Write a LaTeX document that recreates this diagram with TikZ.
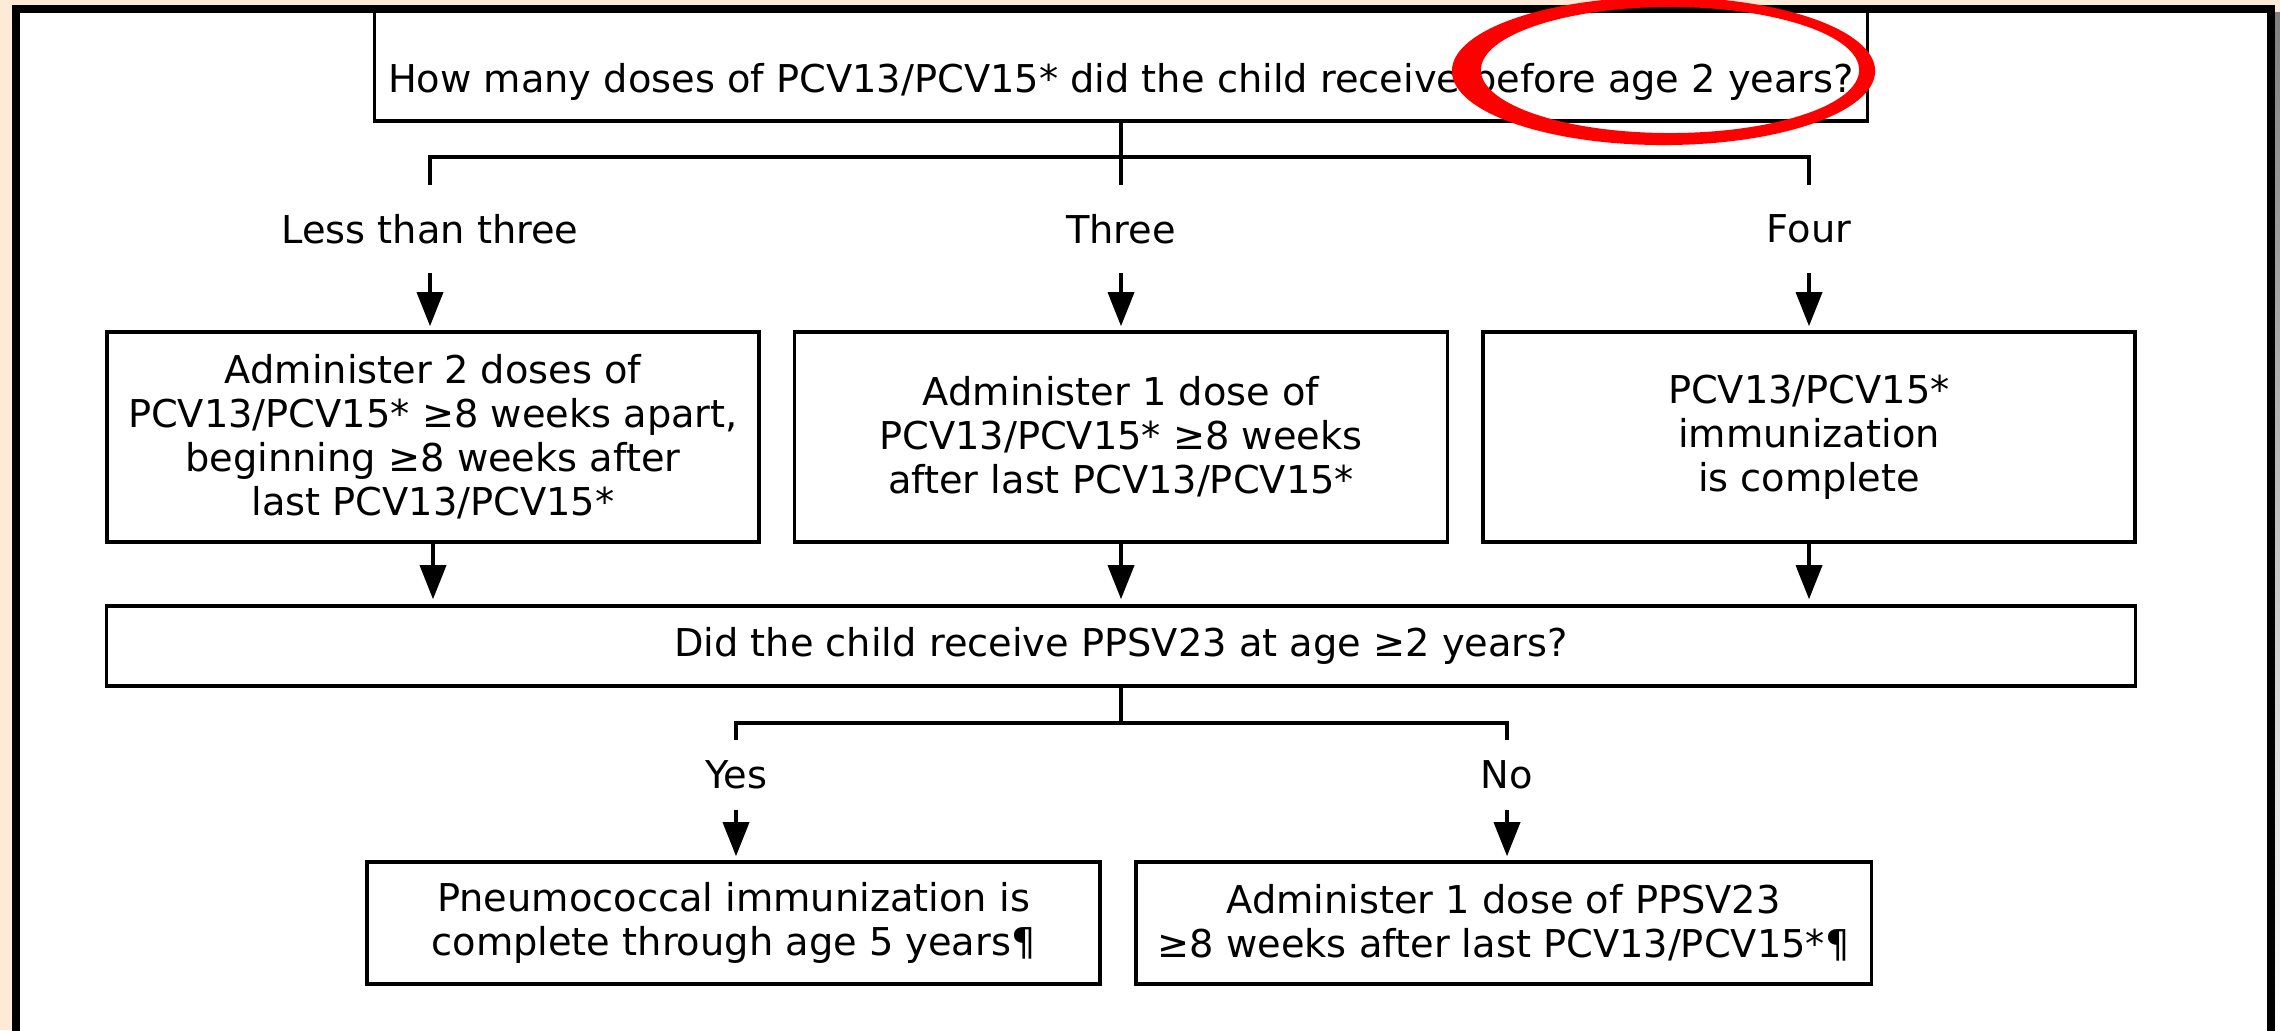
\documentclass[tikz,border=0pt]{standalone}
\usepackage{fontspec}
\setmainfont{DejaVu Sans}
\usetikzlibrary{arrows.meta,calc}
\definecolor{peach}{RGB}{253,235,216}
\definecolor{shade}{RGB}{190,172,156}

\begin{document}
\begin{tikzpicture}[x=0.01cm,y=-0.01cm,line width=0.035cm,
  >={Triangle[width=0.26cm,length=0.34cm]},
  font=\fontsize{10.9}{12.5}\selectfont,
  box/.style={draw,align=center,inner sep=0pt},
  tag/.style={inner sep=0pt,align=center}]

  % page and frame background
  \useasboundingbox (0,0) rectangle (2280,1030);
  \fill[peach] (0,0) rectangle (2280,1030);
  \fill[shade] (2275,12) rectangle (2280,1030);
  \fill[white] (16,9) rectangle (2271,1030);

  \begin{scope}
  \clip (16,9) rectangle (2271,1030);

  % first question
  \node[box,anchor=base,text height=1.6cm,text depth=0.14cm,inner ysep=0.15cm,
    minimum width=14.92cm] (q1) at (1121,92)
    {How many doses of PCV13/PCV15* did the child receive before age 2 years?};

  % answers
  \node[tag,minimum height=0.85cm] (less) at (430,229) {Less than three};
  \node[tag,minimum height=0.85cm] (three) at (1121,229) {Three};
  \node[tag,minimum height=0.85cm] (four) at (1809,229) {Four};

  % actions
  \node[box,minimum width=6.52cm,minimum height=2.1cm] (b1) at (433,437)
    {Administer 2 doses of\\PCV13/PCV15* ≥8 weeks apart,\\beginning ≥8 weeks after\\last PCV13/PCV15*};
  \node[box,minimum width=6.53cm,minimum height=2.1cm] (b2) at (1121,437)
    {Administer 1 dose of\\PCV13/PCV15* ≥8 weeks\\after last PCV13/PCV15*};
  \node[box,minimum width=6.52cm,minimum height=2.1cm] (b3) at (1809,437)
    {PCV13/PCV15*\\immunization\\is complete};

  % second question
  \node[box,minimum width=20.28cm,minimum height=0.8cm] (q2) at (1121,646)
    {Did the child receive PPSV23 at age ≥2 years?};
  \node[tag,minimum height=0.66cm] (yes) at (736,775) {Yes};
  \node[tag,minimum height=0.66cm] (no) at (1507,775) {No};

  % outcomes
  \node[box,minimum width=7.33cm,minimum height=1.22cm] (done) at (733.5,923)
    {Pneumococcal immunization is\\complete through age 5 years¶};
  \node[box,minimum width=7.35cm,minimum height=1.22cm] (ppsv) at (1503.5,923)
    {Administer 1 dose of PPSV23\\≥8 weeks after last PCV13/PCV15*¶};

  % connectors
  \coordinate (bus1) at (1121,157);
  \coordinate (bus2) at (1121,723);
  \draw (q1.south) -- (three.north);
  \draw (less.north) |- (bus1) -| (four.north);
  \foreach \a/\b in {less/b1,three/b2,four/b3}
    \draw[->,shorten >=0.04cm] (\a.south) -- (\a.south |- \b.north);
  \foreach \b in {b1,b2,b3}
    \draw[->,shorten >=0.05cm] (\b.south) -- (\b.south |- q2.north);
  \draw (q2.south) -- (bus2);
  \draw (yes.north) |- (bus2) -| (no.north);
  \draw[->,shorten >=0.04cm] (yes.south) -- (yes.south |- done.north);
  \draw[->,shorten >=0.04cm] (no.south) -- (no.south |- ppsv.north);
  \end{scope}

  % frame
  \draw[line width=0.08cm] (16,1040) -- (16,9) -- (2271,9) -- (2271,1040);

  % highlight
  \fill[red,even odd rule]
    (1663.5,71) ellipse [x radius=2.115cm,y radius=0.74cm]
    (1670,70) ellipse [x radius=1.89cm,y radius=0.63cm];
\end{tikzpicture}
\end{document}
